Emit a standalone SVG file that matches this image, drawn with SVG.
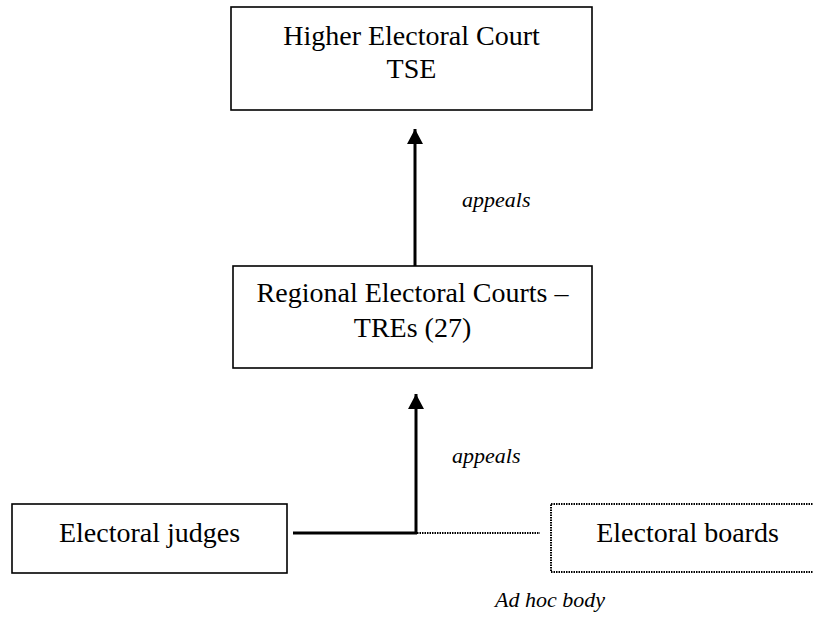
<svg xmlns="http://www.w3.org/2000/svg" width="813" height="617" viewBox="0 0 813 617">
<style>
.box{fill:#fff;stroke:#000;stroke-width:1.6}
.dbox{fill:#fff;stroke:#000;stroke-width:2;stroke-dasharray:1.5 1}
.t{font-family:"Liberation Serif","Times New Roman",serif;font-size:28px;fill:#000;text-anchor:middle}
.lbl{font-family:"Liberation Serif","Times New Roman",serif;font-size:22px;font-style:italic;fill:#000}
.ln{stroke:#000;stroke-width:3;fill:none}
.dl{stroke:#000;stroke-width:2.2;fill:none;stroke-dasharray:1.5 1}
</style>
<defs>
<marker id="ah" markerUnits="userSpaceOnUse" markerWidth="16" markerHeight="16" viewBox="0 0 16 16" refX="15" refY="8" orient="auto">
<path d="M0,0 L15,8 L0,16 Z" fill="#000"/>
</marker>
</defs>
<g id="connectors">
<line class="ln" x1="415" y1="266" x2="415" y2="129" marker-end="url(#ah)"/>
<line class="ln" x1="416" y1="533" x2="416" y2="394" marker-end="url(#ah)"/>
<line class="ln" x1="293" y1="533" x2="417" y2="533"/>
<line class="dl" x1="417" y1="533" x2="540" y2="533"/>
<text class="lbl" x="462" y="207">appeals</text>
<text class="lbl" x="452" y="463">appeals</text>
</g>
<g id="tse">
<rect class="box" x="231" y="7" width="361" height="103"/>
<text class="t" x="411.5" y="45">Higher Electoral Court</text>
<text class="t" x="411.5" y="78">TSE</text>
</g>
<g id="tre">
<rect class="box" x="233" y="266" width="359" height="102"/>
<text class="t" x="412.5" y="302">Regional Electoral Courts –</text>
<text class="t" x="412.5" y="337">TREs (27)</text>
</g>
<g id="judges">
<rect class="box" x="12" y="504" width="275" height="69"/>
<text class="t" x="149.5" y="542">Electoral judges</text>
</g>
<g id="boards">
<rect class="dbox" x="551" y="504" width="273" height="68"/>
<text class="t" x="687.5" y="542">Electoral boards</text>
<text class="lbl" x="495" y="607">Ad hoc body</text>
</g>
</svg>
